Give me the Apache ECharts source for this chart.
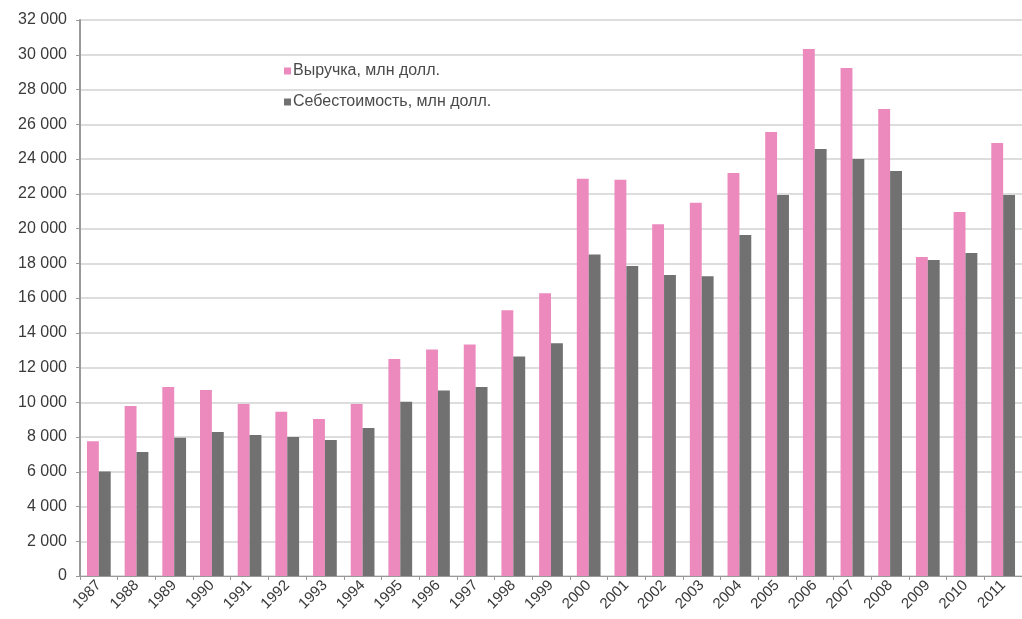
<!DOCTYPE html>
<html>
<head>
<meta charset="utf-8">
<script src="https://cdn.jsdelivr.net/npm/echarts@6/dist/echarts.min.js"></script>
<style>html,body{margin:0;padding:0;background:#fff}#c{width:1022px;height:619px}</style>
</head>
<body>
<div id="c"></div>
<script>
const years = ['1987','1988','1989','1990','1991','1992','1993','1994','1995','1996','1997','1998','1999','2000','2001','2002','2003','2004','2005','2006','2007','2008','2009','2010','2011'];
const revenue = [7750,9780,10880,10700,9900,9460,9040,9900,12490,13030,13320,15290,16280,22870,22800,20250,21480,23190,25550,30330,29240,26880,18360,20950,24920];
const cost = [6020,7140,7960,8290,8110,8000,7830,8520,10030,10680,10880,12640,13400,18500,17840,17330,17250,19630,21930,24570,24000,23310,18190,18590,21930];
const seriesNames = ['Выручка, млн долл.', 'Себестоимость, млн долл.'];

const chart = echarts.init(document.getElementById('c'), null, {renderer: 'canvas'});
const font = "'Liberation Sans', Arial, sans-serif";
chart.setOption({
  animation: false,
  backgroundColor: '#fff',
  grid: {left: 80, top: 20, width: 958, bottom: 43, containLabel: false},
  legend: {
    orient: 'vertical', left: 279, top: 58, itemGap: 15,
    itemWidth: 7, itemHeight: 7, icon: 'rect',
    textStyle: {fontFamily: font, fontSize: 16, color: '#4a4a4a', padding: [0,0,0,-3]},
    data: seriesNames
  },
  xAxis: {
    type: 'category', data: years,
    axisLine: {lineStyle: {color: '#999'}},
    axisTick: {show: true, lineStyle: {color: '#999'}, length: 4},
    axisLabel: {rotate: 45, fontFamily: font, fontSize: 15, color: '#3a3a3a', margin: 7, interval: 0}
  },
  yAxis: {
    type: 'value', min: 0, max: 32000, interval: 2000,
    axisLine: {show: true, lineStyle: {color: '#999', width: 2}},
    axisTick: {show: true, lineStyle: {color: '#999'}, length: 4},
    splitLine: {lineStyle: {color: '#ddd', width: 2}},
    axisLabel: {fontFamily: font, fontSize: 16, color: '#3a3a3a', margin: 13,
      formatter: v => v >= 1000 ? Math.floor(v/1000) + ' ' + String(v % 1000).padStart(3,'0') : String(v)}
  },
  series: [
    {name: seriesNames[0], type: 'bar', data: revenue, barGap: '0%', barCategoryGap: '37%', itemStyle: {color: '#ec89bd'}},
    {name: seriesNames[1], type: 'bar', data: cost, itemStyle: {color: '#717171'}}
  ]
});
</script>
</body>
</html>
